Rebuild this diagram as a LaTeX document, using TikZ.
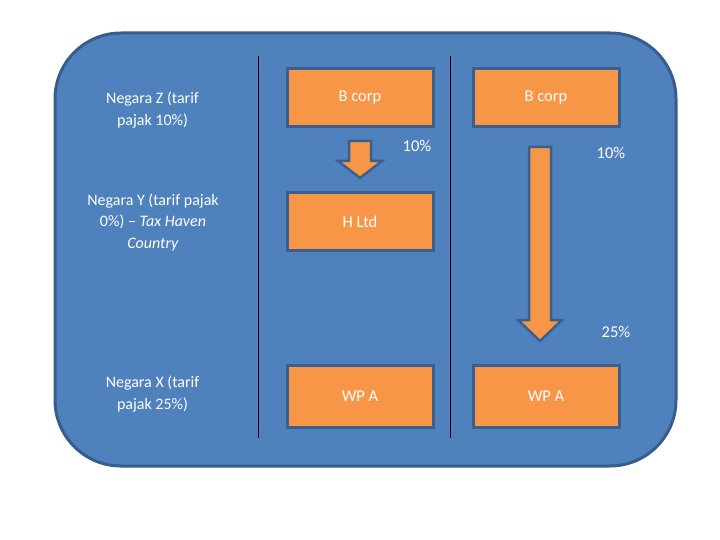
\documentclass[tikz,border=0pt]{standalone}
\usepackage{fontspec}
\setmainfont{Carlito}
\definecolor{panelblue}{HTML}{4F81BD}
\definecolor{paneledge}{HTML}{385D8A}
\definecolor{boxorange}{HTML}{F79646}
\definecolor{boxedge}{HTML}{3A5F8E}
\begin{document}
\begin{tikzpicture}[x=1pt,y=-1pt,
    entity/.style={draw=boxedge,line width=3pt,fill=boxorange,text=white,
      minimum width=146pt,minimum height=58pt,inner sep=0pt,
      font=\fontsize{16.5}{19}\selectfont},
    country/.style={text=white,align=center,inner sep=0pt,
      font=\fontsize{16}{21.5}\selectfont},
    rate/.style={text=white,inner sep=0pt,font=\fontsize{16.5}{19}\selectfont},
    flow/.style={draw=boxedge,line width=2.5pt,fill=boxorange,line join=miter}]
  \useasboundingbox (0,0) rectangle (720,540);
  % panel
  \draw[paneledge,line width=3pt,fill=panelblue,rounded corners=66pt]
    (55,33) rectangle (676,466);
  % column separators
  \draw[black,line width=1pt] (258,56) -- (258,438);
  \draw[black,line width=1pt] (450,56) -- (450,438);
  % countries
  \node[country] (negz) at (152.5,110) {Negara Z (tarif\\pajak 10\%)};
  \node[country] (negy) at (153,222) {Negara Y (tarif pajak\\0\%) -- \textit{Tax Haven}\\\textit{Country}};
  \node[country] (negx) at (152.5,394) {Negara X (tarif\\pajak 25\%)};
  % entities
  \node[entity] (bcorpa) at (360,97.5) {B corp};
  \node[entity] (bcorpb) at (546,97.5) {B corp};
  \node[entity] (hltd) at (360,221.5) {H Ltd};
  \node[entity,minimum height=62pt] (wpaa) at (360,396) {WP A};
  \node[entity,minimum height=62pt] (wpab) at (546,396) {WP A};
  % flows
  \draw[flow] (349,141) -- (371,141) -- (371,161) -- (382,161) -- (360,178)
    -- (338,161) -- (349,161) -- cycle;
  \draw[flow] (529,147) -- (551,147) -- (551,320) -- (562,320) -- (540,341)
    -- (518,320) -- (529,320) -- cycle;
  % rates
  \node[rate] (ratea) at (417,146) {10\%};
  \node[rate] (rateb) at (611,153) {10\%};
  \node[rate] (ratec) at (616,332) {25\%};
\end{tikzpicture}
\end{document}
